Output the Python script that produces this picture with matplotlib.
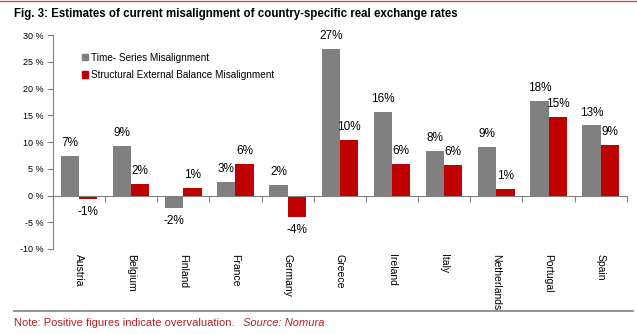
import numpy as np
import matplotlib.pyplot as plt
from matplotlib.patches import Patch
from matplotlib.lines import Line2D

plt.rcParams['font.family'] = ['Liberation Sans', 'DejaVu Sans']

countries = ['Austria', 'Belgium', 'Finland', 'France', 'Germany', 'Greece',
             'Ireland', 'Italy', 'Netherlands', 'Portugal', 'Spain']
time_series = [7.4, 9.2, -2.4, 2.6, 1.9, 27.4, 15.6, 8.3, 9.1, 17.6, 13.1]
structural = [-0.6, 2.1, 1.4, 5.9, -4.0, 10.4, 5.9, 5.7, 1.2, 14.6, 9.4]
series_names = ['Time- Series Misalignment', 'Structural External Balance Misalignment']
yticks = [-10, -5, 0, 5, 10, 15, 20, 25, 30]

grey = '#808080'
red = '#C00000'

fig = plt.figure(figsize=(6.37, 3.34), dpi=100)
ax = fig.add_axes([0.083, 0.2545, 0.901, 0.6405])

x = np.arange(len(countries))
w = 0.35
b1 = ax.bar(x - w / 2, time_series, w, color=grey)
b2 = ax.bar(x + w / 2, structural, w, color=red)

for bars in (b1, b2):
    for r in bars:
        v = r.get_height()
        cx = r.get_x() + r.get_width() / 2
        if v >= 0:
            ax.annotate(f'{v:.0f}%', (cx, v), xytext=(0, 5), textcoords='offset points',
                        ha='center', va='bottom', fontsize=8.5)
        else:
            ax.annotate(f'{v:.0f}%', (cx, v), xytext=(0, -5), textcoords='offset points',
                        ha='center', va='top', fontsize=8.5)

ax.set_xlim(-0.5, len(countries) - 0.5)
ax.set_ylim(-10, 30)
ax.set_yticks(yticks)
ax.set_yticklabels([f'{t} %' for t in yticks], fontsize=6.5)
ax.tick_params(axis='y', direction='out', length=4, color=grey, pad=3)

ax.spines['top'].set_visible(False)
ax.spines['right'].set_visible(False)
ax.spines['left'].set_color(grey)
ax.spines['bottom'].set_position(('data', 0))
ax.spines['bottom'].set_color(grey)
ax.set_xticks(np.arange(-0.5, len(countries) + 0.5, 1))
ax.set_xticklabels([])
ax.tick_params(axis='x', direction='out', length=4, color=grey)

for i, c in enumerate(countries):
    ax.text(i, -11.0, c, rotation=270, ha='center', va='top', fontsize=7.5)

handles = [Patch(color=grey), Patch(color=red)]
ax.legend(handles, series_names, loc='upper left', bbox_to_anchor=(0.035, 0.96),
          frameon=False, fontsize=7.2, handlelength=0.6, handleheight=0.6,
          handletextpad=0.3, labelspacing=0.75)

fig.text(0.022, 0.958, 'Fig. 3: Estimates of current misalignment of country-specific real exchange rates',
         fontsize=8.3, fontweight='bold', va='center')
fig.add_artist(Line2D([0, 1], [0.997, 0.997], color='#C0504D', lw=1.0))
fig.add_artist(Line2D([0.022, 0.994], [0.069, 0.069], color=grey, lw=1.2))
fig.text(0.022, 0.033, 'Note: Positive figures indicate overvaluation.', fontsize=8,
         color='#B22222', va='center')
fig.text(0.381, 0.033, 'Source: Nomura', fontsize=8, color='#B22222', va='center',
         style='italic')

fig.savefig('out.png', dpi=100)
